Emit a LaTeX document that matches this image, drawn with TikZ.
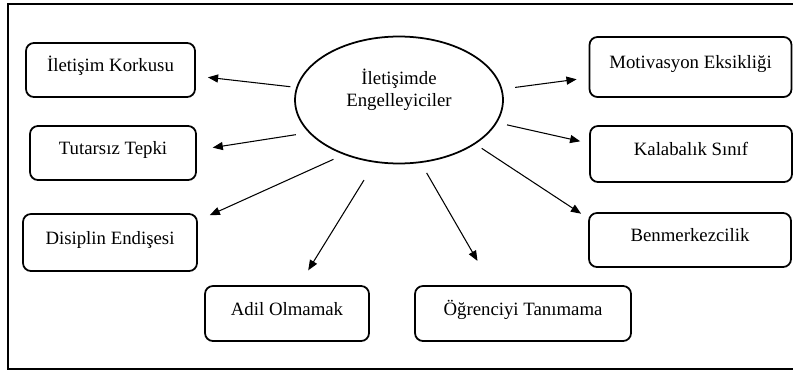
\documentclass[tikz,border=0pt]{standalone}
\usepackage{fontspec}
\setmainfont{LiberationSerif}[Extension=.ttf, UprightFont=*-Regular, BoldFont=*-Bold]
\usetikzlibrary{arrows.meta, shapes.geometric}
\begin{document}
\begin{tikzpicture}[x=0.02cm, y=-0.02cm,
            box/.style={rectangle, draw, rounded corners=4.5pt, line width=1pt, minimum width=4.04cm, minimum height=1.1cm, text height=0.75em, text depth=0.57em, font=\rmfamily\fontsize{10.7}{12.5}\selectfont},
            hub/.style={ellipse, draw, line width=1pt, minimum width=4.16cm, minimum height=2.54cm, inner sep=0pt, outer sep=0pt, align=center, font=\rmfamily\fontsize{10.7}{12.5}\selectfont},
            arr/.style={-{Triangle[length=5.8pt, width=4.6pt]}, line width=0.6pt},
        ]
            \useasboundingbox (0,0) rectangle (793,372);
            \clip (0,0) rectangle (793,372);
            \draw[line width=1.1pt] (8,4) rectangle (820,369);
            \node(hub) at (399,100) [hub] {İletişimde\\Engelleyiciler\\[2pt]\mbox{}};
            % left side
            \node(korku) at (110.5,70) [box, minimum width=3.38cm, minimum height=1.08cm] {İletişim Korkusu};
            \node(tutarsiz) at (113,153) [box, minimum width=3.32cm, minimum height=1.08cm] {Tutarsız Tepki};
            \node(disiplin) at (110,242.5) [box, minimum width=3.48cm, minimum height=1.14cm] {Disiplin Endişesi};
            \node(adil) at (287,313.5) [box, minimum width=3.28cm] {Adil Olmamak};
            \node(ogrenci) at (523,313.5) [box, minimum width=4.32cm] {Öğrenciyi Tanımama};
            % right side
            \node(motivasyon) at (690.5,67) [box, minimum height=1.2cm] {Motivasyon Eksikliği};
            \node(kalabalik) at (691,154) [box, minimum height=1.12cm] {Kalabalık Sınıf};
            \node(benmerkez) at (690,240) [box, minimum height=1.08cm] {Benmerkezcilik};
            \draw[arr, shorten <=3.8pt, shorten >=6.9pt] (hub.173.7) -- (korku.-4.4);
            \draw[arr, shorten <=8pt, shorten >=9.1pt] (hub.200.4) -- (tutarsiz.2.1);
            \draw[arr, shorten <=7.1pt, shorten >=7.4pt] (hub.225) -- (disiplin.14.2);
            \draw[arr, shorten <=12.2pt, shorten >=9.9pt] (hub.249.3) -- (adil.67.7);
            \draw[arr, shorten <=7.1pt, shorten >=15.9pt] (hub.289.4) -- (ogrenci.138);
            \draw[arr, shorten <=4.9pt, shorten >=4.8pt] (hub.330) -- (benmerkez.168.1);
            \draw[arr, shorten <=6.3pt, shorten >=5.2pt] (hub.347) -- (kalabalik.174);
            \draw[arr, shorten <=7.8pt, shorten >=6.9pt] (hub.6.4) -- (motivasyon.186.6);
        \end{tikzpicture}
\end{document}
